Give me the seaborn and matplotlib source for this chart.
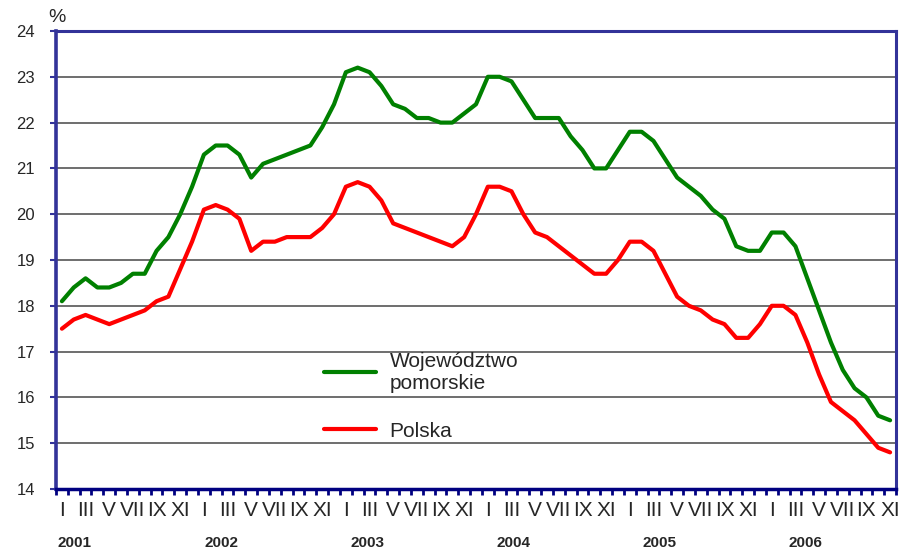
import numpy as np
import pandas as pd
import matplotlib
matplotlib.use('Agg')
import matplotlib.pyplot as plt
import matplotlib.transforms as mtransforms
import seaborn as sns

# dane: stopa bezrobocia (%), I 2001 - XI 2006
months = ['I', 'II', 'III', 'IV', 'V', 'VI', 'VII', 'VIII', 'IX', 'X', 'XI', 'XII']
years = ['2001', '2002', '2003', '2004', '2005', '2006']

pomorskie = [18.1, 18.4, 18.6, 18.4, 18.4, 18.5, 18.7, 18.7, 19.2, 19.5, 20.0, 20.6,
             21.3, 21.5, 21.5, 21.3, 20.8, 21.1, 21.2, 21.3, 21.4, 21.5, 21.9, 22.4,
             23.1, 23.2, 23.1, 22.8, 22.4, 22.3, 22.1, 22.1, 22.0, 22.0, 22.2, 22.4,
             23.0, 23.0, 22.9, 22.5, 22.1, 22.1, 22.1, 21.7, 21.4, 21.0, 21.0, 21.4,
             21.8, 21.8, 21.6, 21.2, 20.8, 20.6, 20.4, 20.1, 19.9, 19.3, 19.2, 19.2,
             19.6, 19.6, 19.3, 18.6, 17.9, 17.2, 16.6, 16.2, 16.0, 15.6, 15.5]

polska = [17.5, 17.7, 17.8, 17.7, 17.6, 17.7, 17.8, 17.9, 18.1, 18.2, 18.8, 19.4,
          20.1, 20.2, 20.1, 19.9, 19.2, 19.4, 19.4, 19.5, 19.5, 19.5, 19.7, 20.0,
          20.6, 20.7, 20.6, 20.3, 19.8, 19.7, 19.6, 19.5, 19.4, 19.3, 19.5, 20.0,
          20.6, 20.6, 20.5, 20.0, 19.6, 19.5, 19.3, 19.1, 18.9, 18.7, 18.7, 19.0,
          19.4, 19.4, 19.2, 18.7, 18.2, 18.0, 17.9, 17.7, 17.6, 17.3, 17.3, 17.6,
          18.0, 18.0, 17.8, 17.2, 16.5, 15.9, 15.7, 15.5, 15.2, 14.9, 14.8]

series_names = ['Województwo\npomorskie', 'Polska']

n = len(polska)
df = pd.DataFrame({
    'm': list(range(n)) * 2,
    'val': pomorskie + polska,
    'seria': [series_names[0]] * n + [series_names[1]] * n,
})

sns.set_style('white')
plt.rcParams['font.family'] = ['Liberation Sans', 'DejaVu Sans']
narrow = ['Liberation Sans Narrow', 'Liberation Sans', 'DejaVu Sans']

fig = plt.figure(figsize=(9.04, 5.5), dpi=100)
ax = fig.add_axes([56 / 904, 61 / 550, 840 / 904, 458 / 550])

sns.lineplot(data=df, x='m', y='val', hue='seria', hue_order=series_names,
             palette=['#008000', '#ff0000'], linewidth=3, ax=ax)

ax.set_xlim(-0.5, n - 0.5)
ax.set_ylim(14, 24)
ax.set_xlabel('')
ax.set_ylabel('')

# os Y
ax.set_yticks(range(14, 25))
ax.tick_params(axis='y', direction='out', length=4.5, width=1.5, color='#333399',
               labelsize=12, pad=10.5, left=True)
ax.yaxis.grid(True, color='#555555', linewidth=1.2)
ax.xaxis.grid(False)
ax.set_axisbelow(True)

# os X: etykiety co drugi miesiac, kreski na granicach miesiecy
pos = list(range(0, n, 2))
ax.set_xticks(pos)
ax.set_xticklabels([months[i % 12] for i in pos], fontsize=15, family=narrow)
ax.tick_params(axis='x', which='major', length=0, pad=9)
ax.set_xticks(np.arange(-0.5, n, 1), minor=True)
ax.tick_params(axis='x', which='minor', direction='out', length=4, width=2,
               color='#000080', bottom=True)

for side in ['left', 'top', 'right']:
    ax.spines[side].set_color('#333399')
    ax.spines[side].set_linewidth(2.2)
ax.spines['left'].set_linewidth(2.6)
ax.spines['bottom'].set_color('#000080')
ax.spines['bottom'].set_linewidth(2.5)

# lata pod osia
trans = mtransforms.blended_transform_factory(ax.transData, ax.transAxes)
for k, y in enumerate(years):
    ax.text(1.1 + 12.35 * k, -0.118, y, transform=trans, ha='center', va='center',
            fontsize=11, fontweight='bold', family=narrow)

fig.text(56.5 / 904, 1 - 17 / 550, '%', ha='center', va='center', fontsize=14)

handles, labels = ax.get_legend_handles_labels()
ax.legend(handles, labels, loc='upper left', bbox_to_anchor=(0.319, 0.300),
          frameon=False, fontsize=15, handlelength=2.5, handletextpad=0.65,
          labelspacing=1.4, borderpad=0, borderaxespad=0)

fig.savefig('out.png', dpi=100, facecolor='white')
